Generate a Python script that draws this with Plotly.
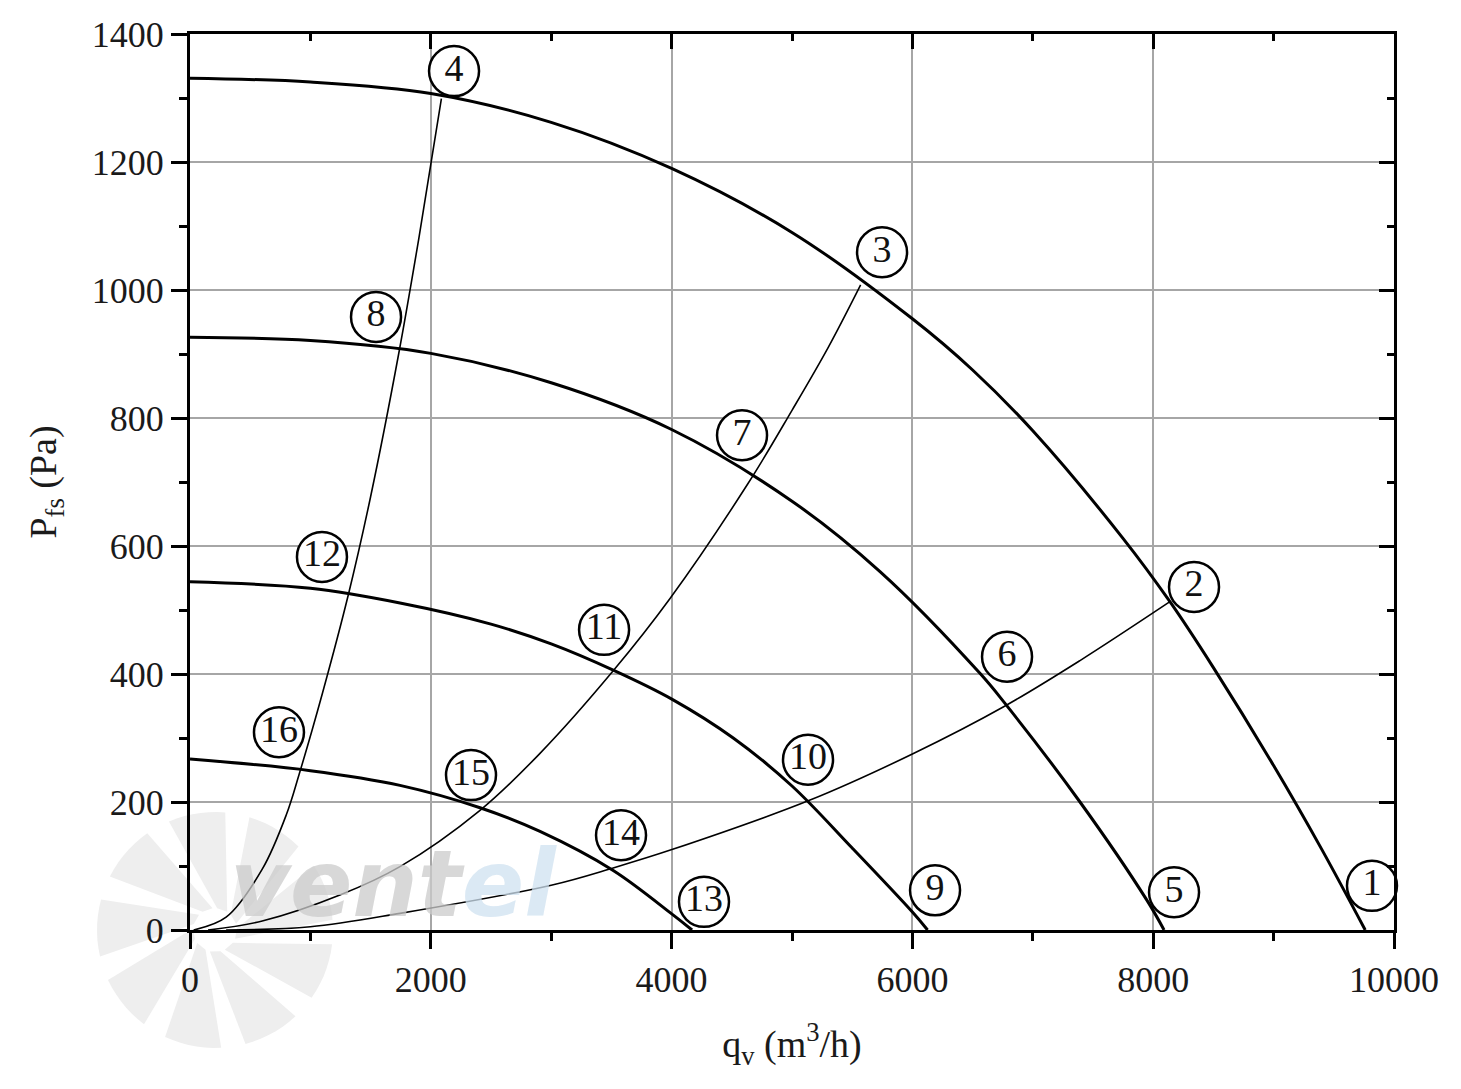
import numpy as np
import plotly.graph_objects as go

# ---------------- data ----------------
fan1_q = [0, 1000, 2000, 3000, 4000, 5000, 6000, 6500, 7000, 7749, 8139, 8500, 9000, 9400, 9761]
fan1_p = [1331, 1325, 1307, 1262, 1190, 1090, 955, 875, 780, 612, 513, 410, 257, 126, 0]

fan2_q = [0, 1000, 2000, 3000, 4000, 5000, 5731, 6561, 6769, 7392, 7946, 8090]
fan2_p = [926, 921, 901, 855, 782, 670, 560, 401, 354, 200, 47, 0]

fan3_q = [0, 1000, 1744, 2500, 3000, 3515, 4009, 4512, 5000, 5500, 6000, 6126]
fan3_p = [544, 534, 511, 478, 447, 406, 360, 300, 225, 128, 28, 0]

fan4_q = [0, 1000, 1744, 2409, 2907, 3515, 4009, 4170]
fan4_p = [267, 249, 226, 191, 154, 93, 24, 0]

sys1_q = [30, 300, 600, 800, 906, 1100, 1314, 1500, 1733, 1900, 2088]
sys1_p = [0, 20, 95, 180, 243, 370, 523, 677, 900, 1080, 1299]

sys2_q = [150, 600, 1250, 1744, 2409, 2907, 3515, 3987, 4636, 5000, 5300, 5570]
sys2_p = [0, 14, 55, 99, 187, 276, 405, 518, 698, 812, 910, 1008]

sys3_q = [300, 1000, 1744, 3000, 3515, 4009, 5150, 6000, 6769, 7392, 8139]
sys3_p = [0, 5, 26, 70, 97, 126, 203, 275, 350, 421, 513]

label_text = ["1", "2", "3", "4", "5", "6", "7", "8", "9", "10", "11", "12", "13", "14", "15", "16"]
label_q = [9817, 8339, 5748, 2193, 8173, 6786, 4585, 1545, 6188, 5133, 3439, 1096, 4269, 3580, 2334, 739]
label_p = [69, 536, 1059, 1342, 59, 427, 773, 958, 62, 266, 469, 583, 44, 148, 242, 309]

x_ticks = [0, 2000, 4000, 6000, 8000, 10000]
x_ticktext = ["0", "2000", "4000", "6000", "8000", "10000"]
y_ticks = [0, 200, 400, 600, 800, 1000, 1200, 1400]
y_ticktext = ["0", "200", "400", "600", "800", "1000", "1200", "1400"]

SERIF = "Liberation Serif"

fig = go.Figure()

# ---------------- watermark (decoration) ----------------
L, R, T, B = 190, 1394, 34, 930
def px2paper(px, py):
    return (px - L) / (R - L), (B - py) / (B - T)

cx, cy = 215, 930
shapes = []
for k in range(9):
    a0 = np.deg2rad(-75 + k * 40)
    a1 = a0 + np.deg2rad(28)
    r_in, r_out = 22, 118
    pts = []
    for a in np.linspace(a0, a1, 8):
        pts.append((cx + r_out * np.cos(a), cy - r_out * np.sin(a)))
    pts.append((cx + r_in * np.cos(a1 - 0.5), cy - r_in * np.sin(a1 - 0.5)))
    pts.append((cx + r_in * np.cos(a0 - 0.5), cy - r_in * np.sin(a0 - 0.5)))
    path = ""
    for i, (px, py) in enumerate(pts):
        X, Y = px2paper(px, py)
        path += ("M" if i == 0 else "L") + f"{X:.4f},{Y:.4f} "
    path += "Z"
    shapes.append(dict(type="path", xref="paper", yref="paper", path=path,
                       fillcolor="#eeeeee", line=dict(width=0), layer="below"))

# ---------------- curves ----------------
for q, p in [(fan1_q, fan1_p), (fan2_q, fan2_p), (fan3_q, fan3_p), (fan4_q, fan4_p)]:
    fig.add_trace(go.Scatter(x=q, y=p, mode="lines",
                             line=dict(color="black", width=3, shape="spline", smoothing=1.0),
                             hoverinfo="skip"))
for q, p in [(sys1_q, sys1_p), (sys2_q, sys2_p), (sys3_q, sys3_p)]:
    fig.add_trace(go.Scatter(x=q, y=p, mode="lines",
                             line=dict(color="black", width=1.6, shape="spline", smoothing=1.0),
                             hoverinfo="skip"))

fig.add_trace(go.Scatter(
    x=label_q, y=label_p, mode="markers+text", text=label_text, textposition="middle center",
    marker=dict(symbol="circle", size=50, color="white", line=dict(color="black", width=2.5)),
    textfont=dict(family=SERIF, size=38, color="#111111"), cliponaxis=False, hoverinfo="skip"))

# dummy trace for mirrored axes
fig.add_trace(go.Scatter(x=[None], y=[None], xaxis="x2", yaxis="y2", showlegend=False))

axis_common = dict(showline=True, linecolor="black", linewidth=3, zeroline=False,
                   tickcolor="black", tickwidth=3, ticklen=16)

fig.update_layout(
    width=1461, height=1089,
    margin=dict(l=L, r=1461 - R, t=T, b=1089 - B),
    plot_bgcolor="white", paper_bgcolor="white", showlegend=False,
    font=dict(family=SERIF, color="#1a1a1a"),
    shapes=shapes,
    xaxis=dict(range=[0, 10000], tickvals=x_ticks, ticktext=x_ticktext, ticks="outside",
               showgrid=True, gridcolor="#a6a6a6", gridwidth=1.5,
               minor=dict(dtick=1000, ticks="outside", ticklen=8, tickwidth=3, tickcolor="black", showgrid=False),
               tickfont=dict(family=SERIF, size=36),
               title=dict(text="q<sub>v</sub> (m<sup>3</sup>/h)", font=dict(family=SERIF, size=38), standoff=32),
               **axis_common),
    yaxis=dict(range=[0, 1400], tickvals=y_ticks, ticktext=y_ticktext, ticks="outside",
               showgrid=True, gridcolor="#a6a6a6", gridwidth=1.5,
               minor=dict(dtick=100, ticks="outside", ticklen=8, tickwidth=3, tickcolor="black", showgrid=False),
               tickfont=dict(family=SERIF, size=36),
               title=dict(text="P<sub>fs</sub> (Pa)", font=dict(family=SERIF, size=38), standoff=24),
               **axis_common),
    xaxis2=dict(range=[0, 10000], overlaying="x", side="top", anchor="y2", tickvals=x_ticks,
                ticks="inside", showticklabels=False, showgrid=False,
                minor=dict(dtick=1000, ticks="inside", ticklen=7, tickwidth=3, tickcolor="black"),
                **{**axis_common, "ticklen": 15}),
    yaxis2=dict(range=[0, 1400], overlaying="y", side="right", anchor="x2", tickvals=y_ticks,
                ticks="inside", showticklabels=False, showgrid=False,
                minor=dict(dtick=100, ticks="inside", ticklen=7, tickwidth=3, tickcolor="black"),
                **{**axis_common, "ticklen": 15}),
)

# watermark text
wx, wy = px2paper(228, 940)
fig.add_annotation(xref="paper", yref="paper", x=wx, y=wy, xanchor="left", yanchor="bottom",
                   text="<b><i><span style='color:#cccccc'>vent</span><span style='color:#cfe2f1'>el</span></i></b>",
                   font=dict(family="DejaVu Sans", size=92), showarrow=False, opacity=0.75)

fig.write_html("out.html")
